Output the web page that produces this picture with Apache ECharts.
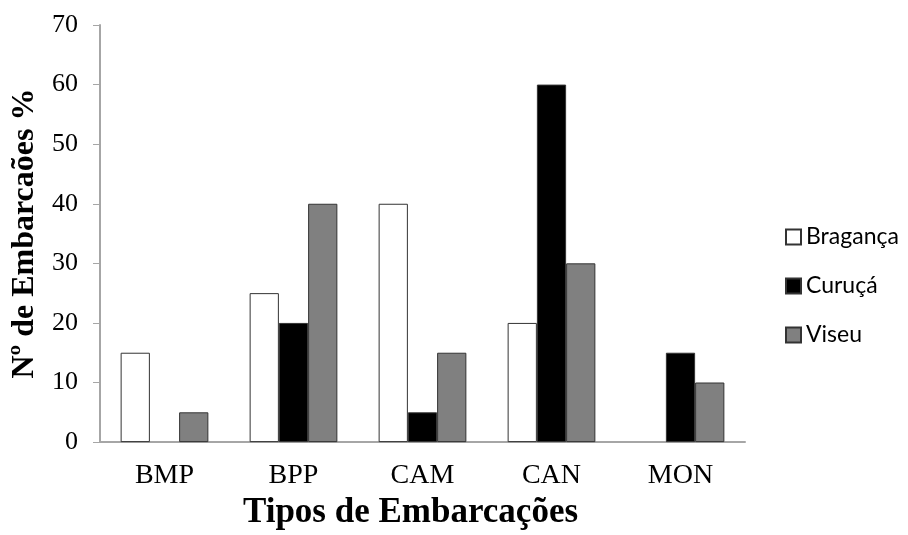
<!DOCTYPE html>
<html><head><meta charset="utf-8">
<script src="https://cdn.jsdelivr.net/npm/echarts@6/dist/echarts.min.js"></script>
<style>html,body{margin:0;padding:0;background:#fff}#c{width:908px;height:535px}</style>
</head><body><div id="c"></div>
<script>
const categories = ['BMP', 'BPP', 'CAM', 'CAN', 'MON'];
const braganca = [15, 25, 40, 20, 0];
const curuca = [0, 20, 5, 60, 15];
const viseu = [5, 40, 15, 30, 10];
const yTicks = [0, 10, 20, 30, 40, 50, 60, 70];

const chart = echarts.init(document.getElementById('c'), null, {renderer: 'canvas'});
const serif = '"Liberation Serif", "Times New Roman", serif';
const border = {borderColor: '#333333', borderWidth: 1};
function mk(name, data, color) {
  return {
    name: name, type: 'bar', data: data.map(v => v === 0 ? null : v),
    barGap: '0%', barCategoryGap: '32%',
    itemStyle: Object.assign({color: color}, border)
  };
}
chart.setOption({
  animation: false,
  grid: {left: 100, top: 25, right: 163, bottom: 92, containLabel: false},
  legend: {
    orient: 'vertical', left: 780, top: 220, itemGap: 25,
    itemWidth: 15, itemHeight: 15, icon: 'rect',
    textStyle: {fontFamily: 'Lato, "Open Sans", sans-serif', fontSize: 23, color: '#000', lineHeight: 24},
    data: ['Bragança', 'Curuçá', 'Viseu']
  },
  xAxis: {
    type: 'category', data: categories,
    name: 'Tipos de Embarcações', nameLocation: 'middle', nameGap: 51,
    nameTextStyle: {fontFamily: serif, fontSize: 35, fontWeight: 'bold', color: '#000', padding: [0, 24, 0, 0]},
    axisLine: {lineStyle: {color: '#a6a6a6', width: 2}},
    axisTick: {show: false},
    axisLabel: {fontFamily: serif, fontSize: 28, color: '#000', margin: 20}
  },
  yAxis: {
    type: 'value', min: yTicks[0], max: yTicks[yTicks.length - 1], interval: 10,
    name: 'Nº de Embarcaões %', nameLocation: 'middle', nameGap: 55, nameRotate: 90,
    nameTextStyle: {fontFamily: serif, fontSize: 32, fontWeight: 'bold', color: '#000'},
    axisLine: {show: true, lineStyle: {color: '#a6a6a6', width: 2}},
    axisTick: {show: true, length: 7, lineStyle: {color: '#a6a6a6', width: 1}},
    splitLine: {show: false},
    axisLabel: {fontFamily: serif, fontSize: 26, color: '#000', margin: 22}
  },
  series: [
    mk('Bragança', braganca, '#ffffff'),
    mk('Curuçá', curuca, '#000000'),
    mk('Viseu', viseu, '#808080')
  ]
});
</script></body></html>
